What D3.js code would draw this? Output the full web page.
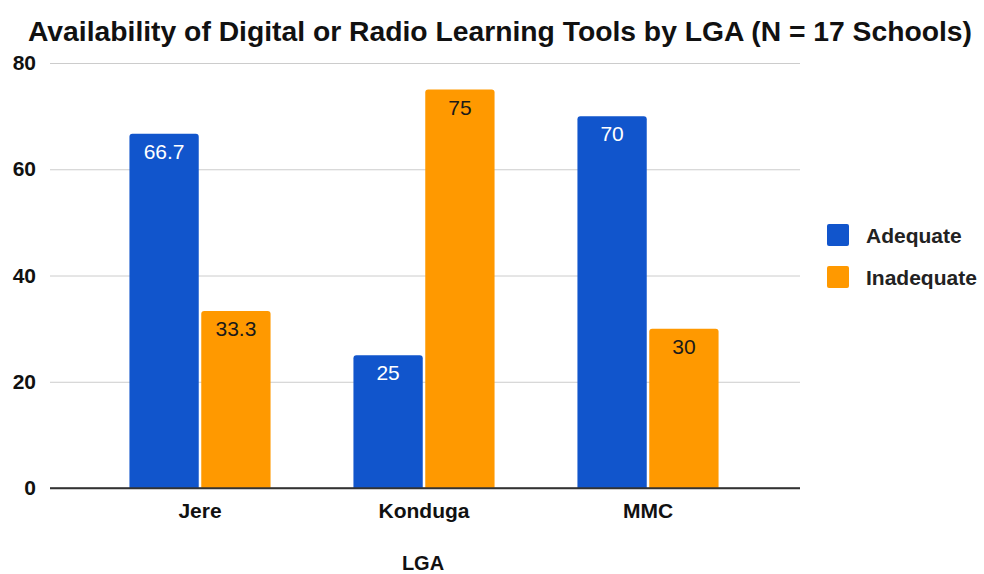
<!DOCTYPE html>
<html>
<head>
<meta charset="utf-8">
<script src="https://cdn.jsdelivr.net/npm/d3@7"></script>
<style>
  body { margin: 0; background: #fff; }
  text { font-family: "Liberation Sans", Arial, sans-serif; }
</style>
</head>
<body>
<div id="chart"></div>
<script>
const WIDTH = 984;
const HEIGHT = 574;
const PLOT = {left: 50, right: 800, top: 63, bottom: 488};

const lgas = ["Jere", "Konduga", "MMC"];
const series = ["Adequate", "Inadequate"];
const adequate = [66.7, 25, 70];
const inadequate = [33.3, 75, 30];
const yTicks = [0, 20, 40, 60, 80];
const colors = ["#1155cc", "#ff9900"];
const labelColors = ["#ffffff", "#1a1a1a"];

const values = [adequate, inadequate];

const svg = d3.select("#chart").append("svg")
    .attr("width", WIDTH)
    .attr("height", HEIGHT);

const y = d3.scaleLinear().domain([0, 80]).range([PLOT.bottom, PLOT.top]);
const x = d3.scaleBand().domain(lgas).range([88, 760]).paddingInner(0.37).paddingOuter(0.185);
const xs = d3.scaleBand().domain(series).range([0, x.bandwidth()]).paddingInner(0.035);

// title
svg.append("text")
    .attr("x", 500).attr("y", 41)
    .attr("text-anchor", "middle")
    .attr("font-family", "Roboto, sans-serif")
    .attr("font-size", 28).attr("font-weight", "bold")
    .attr("fill", "#111")
    .attr("textLength", 944).attr("lengthAdjust", "spacingAndGlyphs")
    .text("Availability of Digital or Radio Learning Tools by LGA (N = 17 Schools)");

// gridlines + y labels
const yAxis = svg.append("g")
    .attr("transform", `translate(${PLOT.left},0)`)
    .call(d3.axisLeft(y).tickValues(yTicks).tickSize(-(PLOT.right - PLOT.left)).tickPadding(14));
yAxis.select(".domain").remove();
yAxis.selectAll(".tick line")
    .attr("stroke", d => d === 0 ? "#333" : "#cccccc")
    .attr("stroke-width", d => d === 0 ? 1.5 : 1);
yAxis.selectAll(".tick text")
    .attr("font-size", 21).attr("font-weight", "bold").attr("fill", "#111")
    .attr("font-family", "'Liberation Sans', Arial, sans-serif");

// bars
const groups = svg.selectAll(".grp")
    .data(lgas)
    .enter().append("g")
    .attr("transform", d => `translate(${x(d)},0)`);

series.forEach((s, si) => {
    groups.append("path")
        .attr("fill", colors[si])
        .attr("d", (d, i) => {
            const x0 = xs(s), w = xs.bandwidth();
            const top = y(values[si][i]), bot = y(0), r = 3;
            return `M${x0},${bot}V${top + r}Q${x0},${top} ${x0 + r},${top}H${x0 + w - r}Q${x0 + w},${top} ${x0 + w},${top + r}V${bot}Z`;
        });
    groups.append("text")
        .attr("x", xs(s) + xs.bandwidth() / 2)
        .attr("y", (d, i) => y(values[si][i]) + 25)
        .attr("text-anchor", "middle")
        .attr("font-family", "Roboto, sans-serif")
        .attr("font-size", 21)
        .attr("fill", labelColors[si])
        .text((d, i) => values[si][i]);
});

// baseline on top of bars
svg.append("line")
    .attr("x1", PLOT.left).attr("x2", PLOT.right)
    .attr("y1", y(0)).attr("y2", y(0))
    .attr("stroke", "#333").attr("stroke-width", 1.5);

// x labels
svg.selectAll(".xl")
    .data(lgas)
    .enter().append("text")
    .attr("x", d => x(d) + x.bandwidth() / 2)
    .attr("y", 518)
    .attr("text-anchor", "middle")
    .attr("font-size", 21).attr("font-weight", "bold").attr("fill", "#111")
    .text(d => d);

svg.append("text")
    .attr("x", 423).attr("y", 570)
    .attr("text-anchor", "middle")
    .attr("font-size", 20).attr("font-weight", "bold").attr("fill", "#111")
    .text("LGA");

// legend
const legend = svg.selectAll(".lg")
    .data(series)
    .enter().append("g")
    .attr("transform", (d, i) => `translate(827,${224 + i * 42})`);
legend.append("rect")
    .attr("width", 22).attr("height", 22).attr("rx", 2)
    .attr("fill", (d, i) => colors[i]);
legend.append("text")
    .attr("x", 39).attr("y", 19)
    .attr("font-size", 21).attr("font-weight", "bold").attr("fill", "#222")
    .text(d => d);
</script>
</body>
</html>
